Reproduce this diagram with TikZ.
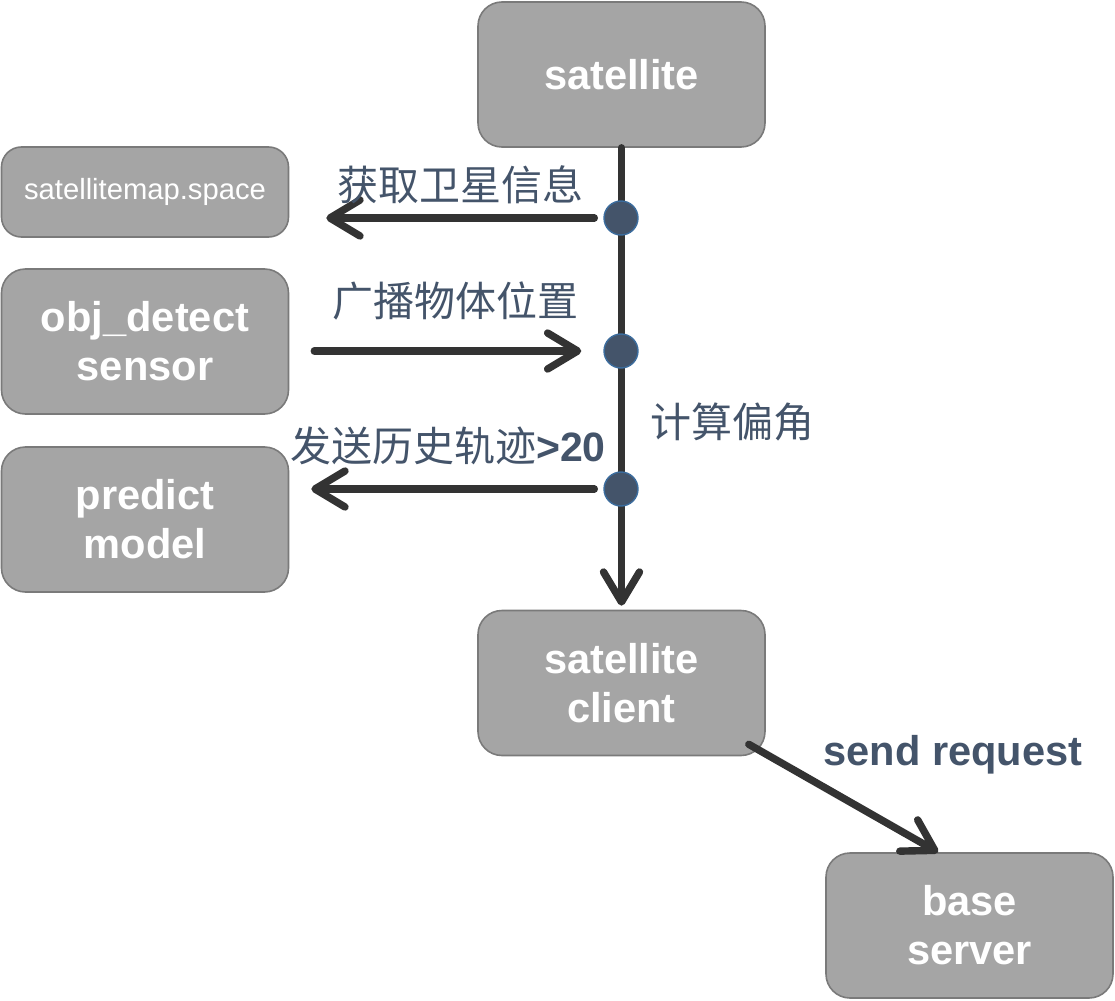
\documentclass[tikz,border=0pt]{standalone}
\usepackage{fontspec}
\setmainfont{Liberation Sans}
\newfontfamily\cjk{Noto Sans CJK SC}
\usepackage{xcolor}
\usetikzlibrary{arrows.meta}
\definecolor{boxgray}{HTML}{A5A5A5}
\definecolor{boxline}{HTML}{7A7A7A}
\definecolor{labelblue}{HTML}{44546A}
\definecolor{dotline}{HTML}{3C6D9E}
\definecolor{flowline}{HTML}{333333}

\begin{document}
\begin{tikzpicture}[x=0.5pt,y=-0.5pt,
	box/.style={draw=boxline,fill=boxgray,line width=0.8pt,rounded corners=12pt,
		minimum width=143.5pt,minimum height=72.5pt,align=center,text=white,
		font=\fontsize{20.8}{24.5}\selectfont\bfseries,inner sep=0pt},
	smallbox/.style={box,minimum height=45pt,rounded corners=10pt,
		font=\fontsize{14.6}{17}\selectfont},
	dot/.style={circle,fill=labelblue,draw=dotline,line width=0.7pt,
		minimum size=17pt,inner sep=0pt},
	arr/.style={draw=flowline,line width=3.7pt,line cap=round,
		-{Straight Barb[length=15pt,width=18pt,round]}},
	lbl/.style={text=labelblue,font=\fontsize{20.5}{24}\selectfont\cjk,inner sep=0pt},
	]
	\useasboundingbox (0,0) rectangle (1115,1001);
	\node[box] (sat) at (621.5,74.5) {satellite};
	\node[smallbox] (map) at (145,192) {satellitemap.space};
	\node[box] (detect) at (145,341.5) {obj\_detect\\sensor};
	\node[box] (predict) at (145,519.5) {predict\\model};
	\node[box] (client) at (621.5,683) {satellite\\client};
	\node[box] (server) at (969.5,925.5) {base\\server};
	\draw[arr,shorten >=2pt] (sat.south) -- (client.north);
	\node[dot] (d1) at (621,218) {};
	\node[dot] (d2) at (621,351) {};
	\node[dot] (d3) at (621,489) {};
	\draw[arr,shorten <=4.5pt,shorten >=18.5pt] (d1.west) -- (map.east |- d1.west);
	\draw[arr,shorten <=12.5pt,shorten >=11pt] (detect.east |- d2.west) -- (d2.west);
	\draw[arr,shorten <=4.5pt,shorten >=11pt] (d3.west) -- (predict.east |- d3.west);
	\draw[arr] ([xshift=-8.5pt,yshift=6pt]client.south east) -- ([xshift=-15.75pt]server.north);
	\node[lbl] (l1) at (460,185) {获取卫星信息};
	\node[lbl] (l2) at (455,301) {广播物体位置};
	\node[lbl] (l3) at (732,422) {计算偏角};
	\node[lbl] (l4) at (448,446) {发送历史轨迹{\fontspec{Liberation Sans}\bfseries >20}};
	\node[lbl,font=\fontsize{20.8}{24}\selectfont\bfseries] (l5) at (953,755) {send request};
\end{tikzpicture}
\end{document}
